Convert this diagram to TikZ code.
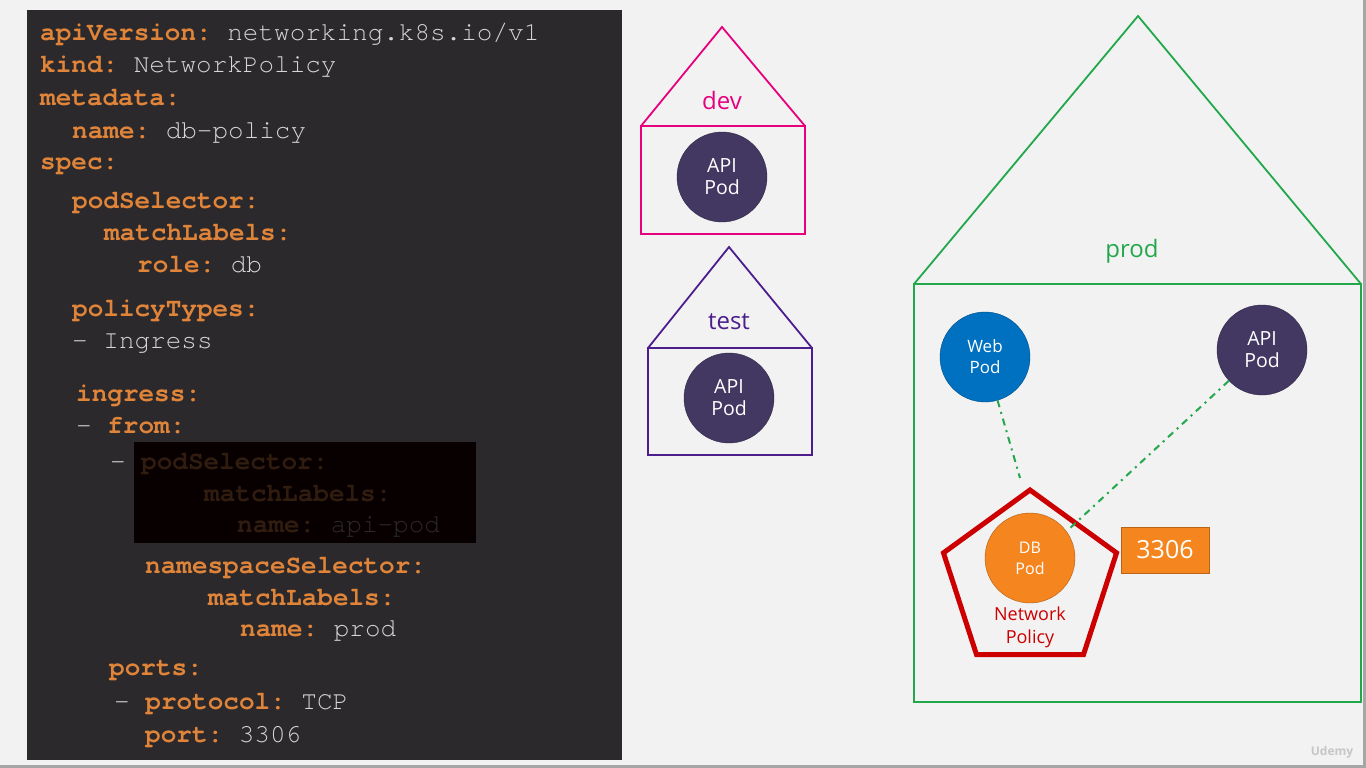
\documentclass[tikz,border=0pt]{standalone}
\usepackage{fontspec}
\setmonofont{TeX Gyre Cursor}
\newfontfamily\uifont{Open Sans}
\usetikzlibrary{positioning, shapes.geometric}

\definecolor{pagebg}{HTML}{F2F2F3}
\definecolor{panelbg}{HTML}{2B292B}
\definecolor{keyc}{HTML}{E0843A}
\definecolor{valc}{HTML}{D6D6D6}
\definecolor{dimkey}{HTML}{311D10}
\definecolor{dimval}{HTML}{2A2A2A}
\definecolor{devc}{HTML}{E6007E}
\definecolor{testc}{HTML}{4B1E8C}
\definecolor{prodc}{HTML}{22A84A}
\definecolor{apic}{HTML}{433862}
\definecolor{webc}{HTML}{0070C0}
\definecolor{dbc}{HTML}{F5861F}
\definecolor{npolc}{HTML}{CC0000}

\newcommand{\ky}[1]{\textbf{#1}}
\newcommand{\vl}[1]{\textcolor{valc}{#1}}
\newcommand{\dv}[1]{\textcolor{dimval}{#1}}

\tikzset{
	code/.style={font=\ttfamily\fontsize{26}{32}\selectfont, text=keyc, anchor=base west, inner sep=0pt},
	dimcode/.style={code, text=dimkey},
	pod/.style={circle, draw=#1!70!black, fill=#1, minimum size=90pt, inner sep=0pt, text=white,
		align=center, font=\uifont\fontsize{19.5}{22}\selectfont},
	nslabel/.style={font=\uifont\fontsize{24}{28}\selectfont, inner sep=0pt},
	house/.style={line width=1.8pt},
	link/.style={draw=prodc, line width=2pt, dash pattern=on 7pt off 5pt on 2pt off 5pt}
}

\begin{document}
\begin{tikzpicture}[x=1pt, y=-1pt]
	\useasboundingbox (0,0) rectangle (1366,768);
	\fill[pagebg] (0,0) rectangle (1366,768);
	\fill[gray!70] (0,765) rectangle (1366,768);
	\fill[gray!70] (1363,0) rectangle (1366,768);

	% yaml panel
	\fill[panelbg] (27,10) rectangle (622,760);
	\node[code] (l1) at (40,41) {\ky{apiVersion:} \vl{networking.k8s.io/v1}};
	\node[code] (l2) at (40,73) {\ky{kind:} \vl{NetworkPolicy}};
	\node[code] (l3) at (40,105) {\ky{metadata:}};
	\node[code] (l4) at (72,138) {\ky{name:} \vl{db-policy}};
	\node[code] (l5) at (40,169) {\ky{spec:}};
	\node[code] (l6) at (72,208) {\ky{podSelector:}};
	\node[code] (l7) at (104,240) {\ky{matchLabels:}};
	\node[code] (l8) at (137,272) {\ky{role:} \vl{db}};
	\node[code] (l9) at (72,316) {\ky{policyTypes:}};
	\node[code] (l10) at (72,348) {\vl{- Ingress}};
	\node[code] (l11) at (76,401) {\ky{ingress:}};
	\node[code] (l12) at (76,433) {\vl{-} \ky{from:}};
	\node[code] (l13) at (110,469) {\vl{-}};
	% hidden pod selector
	\fill[black!97!red] (134,442) rectangle (476,543);
	\node[dimcode] (d1) at (141,469) {\ky{podSelector:}};
	\node[dimcode] (d2) at (204,501) {\ky{matchLabels:}};
	\node[dimcode] (d3) at (237,532) {\ky{name:} \dv{api-pod}};
	\node[code] (l14) at (145,573) {\ky{namespaceSelector:}};
	\node[code] (l15) at (208,605) {\ky{matchLabels:}};
	\node[code] (l16) at (240,636) {\ky{name:} \vl{prod}};
	\node[code] (l17) at (109,675) {\ky{ports:}};
	\node[code] (l18) at (114,709) {\vl{-} \ky{protocol:} \vl{TCP}};
	\node[code] (l19) at (145,742) {\ky{port:} \vl{3306}};

	% dev namespace
	\draw[house, devc] (641,126) rectangle (805,234);
	\draw[house, devc, line join=miter] (641,126) -- (722,27) -- (805,126);
	\node[nslabel, text=devc] (devlbl) at (722,101) {dev};
	\node[pod=apic] (devapi) at (722,177) {API\\Pod};

	% test namespace
	\draw[house, testc] (648,348) rectangle (812,455);
	\draw[house, testc, line join=miter] (648,348) -- (729,247) -- (812,348);
	\node[nslabel, text=testc] (testlbl) at (729,322) {test};
	\node[pod=apic] (testapi) at (729,398) {API\\Pod};

	% prod namespace
	\draw[house, prodc] (914,284) rectangle (1361,702);
	\draw[house, prodc, line join=miter] (914,284) -- (1138,16) -- (1361,284);
	\node[nslabel, text=prodc] (prodlbl) at (1132,251) {prod};
	\node[pod=webc, font=\uifont\fontsize{17}{21}\selectfont] (web) at (985,357) {Web\\Pod};
	\node[pod=apic] (api) at (1262,350) {API\\Pod};

	\node[regular polygon, regular polygon sides=5, minimum size=182pt, inner sep=0pt,
		draw=npolc, line width=5pt] (npol) at (1030,581) {};
	\node[pod=dbc, font=\uifont\fontsize{16}{21}\selectfont] (db) at (1030,558) {DB\\Pod};
	\node[text=npolc, align=center, font=\uifont\fontsize{18}{23}\selectfont] (npollbl) at (1030,627) {Network\\Policy};
	\node[rectangle, fill=dbc, draw=dbc!75!black, minimum width=88pt, minimum height=46pt,
		text=white, font=\uifont\fontsize{25}{30}\selectfont] (port) at (1165,550) {3306};

	\coordinate (webend) at (1020,478);
	\coordinate (apiend) at (1068,530);
	\draw[link] (web) -- (webend);
	\draw[link] (api) -- (apiend);

	\node[text=gray!45, font=\uifont\bfseries\fontsize{12}{14}\selectfont] (mark) at (1332,752) {Udemy};
\end{tikzpicture}
\end{document}
